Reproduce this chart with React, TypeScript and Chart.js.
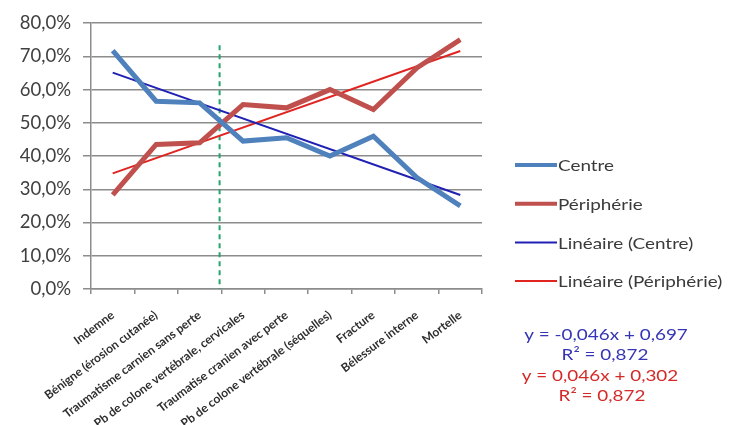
import React, { useEffect, useRef } from "react";
import { Chart, registerables } from "chart.js";

Chart.register(...registerables);

const categories = [
  "Indemne",
  "Bénigne (érosion cutanée)",
  "Traumatisme carnien sans perte",
  "Pb de colone vertébrale, cervicales",
  "Traumatise cranien avec perte",
  "Pb de colone vertébrale (séquelles)",
  "Fracture",
  "Bélessure interne",
  "Mortelle",
];

const centreValues = [71.7, 56.5, 56.0, 44.5, 45.5, 40.0, 46.0, 33.5, 25.0];
const peripherieValues = [28.3, 43.5, 44.0, 55.5, 54.5, 60.0, 54.0, 66.5, 75.0];

// Trend line end values (first and last category)
const centreTrendEnds = [65.1, 28.3];
const peripherieTrendEnds = [34.8, 71.6];

// Vertical dashed separator (category position, top value, bottom value)
const separatorPosition = 2.46;
const separatorRange = [73.3, 0];

const yTicks = [0, 10, 20, 30, 40, 50, 60, 70, 80];

const equationLines = [
  { text: "y = -0,046x + 0,697", color: "#3535b5" },
  { text: "R² = 0,872", color: "#3535b5" },
  { text: "y = 0,046x + 0,302", color: "#d42a2a" },
  { text: "R² = 0,872", color: "#d42a2a" },
];

const FONT = "Lato, 'Open Sans', sans-serif";
const STRETCH = 1.18;

function stretchedText(ctx: any, text: string, x: number, y: number, align: string) {
  ctx.save();
  ctx.translate(x, y);
  ctx.scale(STRETCH, 1);
  ctx.textAlign = align;
  ctx.fillText(text, 0, 0);
  ctx.restore();
}

const overlayPlugin = {
  id: "overlay",
  afterDraw(chart: any) {
    const ctx = chart.ctx;
    ctx.save();
    // Legend
    const items = chart.data.datasets.filter((d: any) => !d.hideInLegend);
    const legendX = 515;
    const legendY0 = 165;
    const legendStep = 38.7;
    ctx.font = `16px ${FONT}`;
    ctx.textBaseline = "middle";
    items.forEach((d: any, i: number) => {
      const y = legendY0 + i * legendStep;
      ctx.strokeStyle = d.borderColor;
      ctx.lineWidth = d.borderWidth > 3 ? 4 : 2;
      ctx.beginPath();
      ctx.moveTo(legendX, y);
      ctx.lineTo(legendX + 42, y);
      ctx.stroke();
      ctx.fillStyle = "#3a3a3a";
      stretchedText(ctx, d.label, legendX + 43, y + 1, "left");
    });
    // Equations
    ctx.font = `16px ${FONT}`;
    const eqX = [606, 605, 600, 602];
    const eqY = [335, 355, 376, 396];
    equationLines.forEach((e, i) => {
      ctx.fillStyle = e.color;
      stretchedText(ctx, e.text, eqX[i], eqY[i], "center");
    });
    ctx.restore();
  },
};

export default function App() {
  const canvasRef = useRef<HTMLCanvasElement | null>(null);

  useEffect(() => {
    if (!canvasRef.current) return;
    const chart = new Chart(canvasRef.current, {
      type: "line",
      data: {
        labels: categories,
        datasets: [
          {
            label: "Centre",
            data: centreValues,
            borderColor: "#4f81bd",
            backgroundColor: "#4f81bd",
            borderWidth: 5,
            pointRadius: 0,
            tension: 0,
          },
          {
            label: "Périphérie",
            data: peripherieValues,
            borderColor: "#c0504d",
            backgroundColor: "#c0504d",
            borderWidth: 5,
            pointRadius: 0,
            tension: 0,
          },
          {
            label: "Linéaire (Centre)",
            xAxisID: "x2",
            data: [
              { x: 0, y: centreTrendEnds[0] },
              { x: categories.length - 1, y: centreTrendEnds[1] },
            ],
            borderColor: "#2020b4",
            backgroundColor: "#2020b4",
            borderWidth: 2,
            pointRadius: 0,
          },
          {
            label: "Linéaire (Périphérie)",
            xAxisID: "x2",
            data: [
              { x: 0, y: peripherieTrendEnds[0] },
              { x: categories.length - 1, y: peripherieTrendEnds[1] },
            ],
            borderColor: "#e02420",
            backgroundColor: "#e02420",
            borderWidth: 2,
            pointRadius: 0,
          },
          {
            label: "separator",
            hideInLegend: true,
            xAxisID: "x2",
            data: [
              { x: separatorPosition, y: separatorRange[0] },
              { x: separatorPosition, y: separatorRange[1] },
            ],
            borderColor: "#22a46c",
            borderWidth: 2,
            borderDash: [5, 4],
            pointRadius: 0,
          } as any,
        ],
      },
      options: {
        animation: false,
        responsive: false,
        layout: { padding: { top: 19, right: 261, bottom: 0, left: 0 } },
        plugins: {
          legend: { display: false },
          tooltip: { enabled: false },
        },
        scales: {
          x: {
            type: "category",
            offset: true,
            grid: {
              offset: true,
              drawOnChartArea: false,
              drawTicks: true,
              tickLength: 5,
              color: "#8c8c8c",
              lineWidth: 1.5,
            },
            border: { display: true, color: "#8c8c8c", width: 1.5 },
            ticks: {
              autoSkip: false,
              minRotation: 37,
              maxRotation: 37,
              padding: 14,
              color: "#2e2e2e",
              font: { family: FONT, size: 12, weight: "bold" },
            },
            afterFit(scale: any) {
              scale.height = 136;
            },
          },
          x2: {
            type: "linear",
            display: false,
            min: -0.5,
            max: categories.length - 0.5,
          },
          y: {
            min: 0,
            max: 80,
            afterBuildTicks(scale: any) {
              scale.ticks = yTicks.map((v) => ({ value: v }));
            },
            grid: {
              color: "#8c8c8c",
              lineWidth: 1.5,
              tickLength: 8,
            },
            border: { display: true, color: "#8c8c8c", width: 1.5 },
            ticks: {
              padding: 12,
              color: "#404040",
              font: { family: FONT, size: 18.5 },
              callback: (v: any) => Number(v).toFixed(1).replace(".", ",") + "%",
            },
            afterFit(scale: any) {
              scale.width = 91;
            },
          },
        },
      },
      plugins: [overlayPlugin],
    } as any);
    return () => chart.destroy();
  }, []);

  return (
    <div style={{ position: "fixed", left: 0, top: 0, width: 743, height: 425, background: "#fff" }}>
      <canvas ref={canvasRef} width={743} height={425} style={{ width: 743, height: 425 }} />
    </div>
  );
}
